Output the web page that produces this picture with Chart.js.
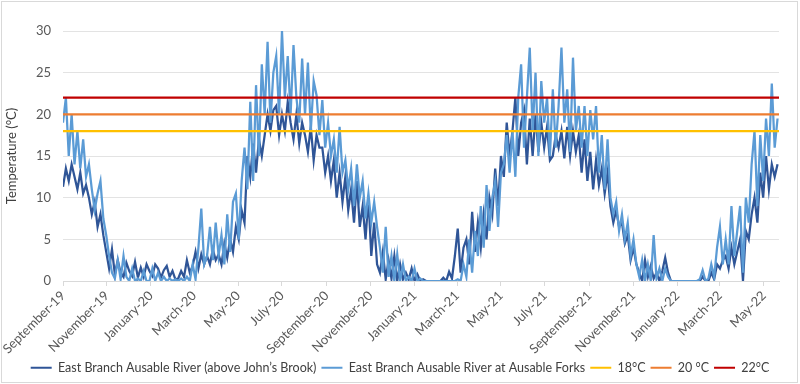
<!DOCTYPE html>
<html>
<head>
<meta charset="utf-8">
<script src="https://cdn.jsdelivr.net/npm/chart.js@4.4.1/dist/chart.umd.min.js"></script>
<style>
  html, body { margin: 0; padding: 0; background: #fff; }
</style>
</head>
<body>
<canvas id="line-chart" width="800" height="384"></canvas>
<script>
// x axis: every other month
var tickLabels = ['September-19','November-19','January-20','March-20','May-20','July-20','September-20','November-20',
  'January-21','March-21','May-21','July-21','September-21','November-21','January-22','March-22','May-22'];
var tickDates = ['2019-09-01','2019-11-01','2020-01-01','2020-03-01','2020-05-01','2020-07-01','2020-09-01','2020-11-01',
  '2021-01-01','2021-03-01','2021-05-01','2021-07-01','2021-09-01','2021-11-01','2022-01-01','2022-03-01','2022-05-01'];
var startDate = '2019-09-01';
var endDay = 994;
var sampleStep = 4; // one reading every 4 days

// East Branch Ausable River (above John's Brook)
var johnsBrook = [
  11.3,13.5,12,14,12.5,11,13,10.5,11.5,10,
  8,9.5,6.5,8,5.5,3.5,1.5,3.8,0.8,2.5,
  1,0.5,2.2,1.2,0.6,2.3,0.4,1.6,0.5,2,
  1.2,0.6,2,1.5,0.4,1.3,1.8,0.5,1.2,0.2,
  0.3,1.2,0.5,2.5,1,1.8,3.5,1.5,3.2,2,
  3,2,3.8,2.5,3.2,2,4.5,2.8,5,3.5,
  6.5,5,8.5,7,15,12.5,16.5,13,17,15,
  17.5,20,18,20.5,21,17.5,20,18,21.5,19,
  17,20,16.5,19,17.5,15.5,18.5,14.5,17.5,16,
  16,13,15,12,14.5,10,13,9.5,12.5,8.5,
  11,7,12,6.5,9,5,10,3,7,2,
  1,3.5,0.2,2.5,0.3,3,0,2,0.2,1,
  0.2,1.5,0,0.8,0,0.2,0,0,0,0,
  0,0,0.4,0,1.1,0.3,3,6.3,1,4,
  5,2,8.3,3.5,7,4,8,5,10,8,
  13.5,9,15,12.5,19,15,18,22,15,19,
  20.5,14,19.5,15,20,15.5,19,16,18.5,14.5,
  15,17.5,16,18,14.7,18.5,15,18,15.5,17.5,
  13,17,12,15.5,11,14.5,11.5,13.5,10.5,13,
  9,7,8.5,6.5,7,4.5,5.5,2.5,4,2,
  1,0,2.5,0.5,1.8,0.3,1,0,1.2,2.8,
  1,0,0,0,0,0,0,0,0,0,
  0,0,0.5,0,0,1,0.2,2,1.5,2.5,
  3,1.5,4,2,3.5,5,0,6,5,8,
  10,7,13,10,15,11,14,12.5,14
];

// East Branch Ausable River at Ausable Forks
var ausableForks = [
  19,22,15,20,14,18,13.5,17,12.5,14,
  11,8.5,10.5,12,7.5,5.5,3,1,0.3,2.5,
  0.2,3,0.5,0,1.5,0,0.3,0,1.2,0,
  0,1.5,0,1,0,0.5,0,0.3,0,0.2,
  0,0.3,0,0.5,0,2,0.2,4,8.7,2,
  3,6.5,2.5,7,3,5.5,2,8,3.5,9.5,
  10.5,5,12,16,11,21.5,12,23.5,15,26,
  20,28.7,19,25,27,20,30,22,27,20,
  28.3,22,19,26.7,20,26.2,18,24,22.3,17.5,
  21.7,16,19,15,17,13,18.5,13,14.5,11,
  13.5,9,14,10,12,7.5,10.5,7,9.5,6.5,
  4,1,6.5,0.5,3,0,3.2,0,2,0,
  0.5,0,1.5,0,0.3,0,0,0,0,0,
  0,0,0,0,0,0,0,0.2,0,2,
  0.5,5,1,6,3,9,4,11.5,6,10,
  12,6.5,13,14,17.5,13,18,12.5,22,26,
  16,22,28,18,25,15,24,19,22,15,
  23,16,21,28,19,23,15.5,26.8,18,21,
  16,21,15,20.5,17,21,13,17.5,11,17,
  10,8,9.5,6,8,5,7,3,5,2,
  0.5,2.5,0,2,0,5.5,0.3,1.5,0,1.5,
  0.5,0,0,0,0,0,0,0,0,0,
  0,0.2,1.3,0,0.3,2,0.5,4,6.5,2,
  5,2,9,3,6,9,1,10,7,14,
  18,9,17.5,12,19.5,15,23.7,16,19.5
];

// reference temperatures
var thresholdValues = [18, 20, 22];
var thresholdLabels = ['18°C', '20 °C', '22°C'];
var thresholdColors = ['#FFC000', '#ED7D31', '#C00000'];

var tickDays = tickDates.map(function(s) { return (Date.parse(s) - Date.parse(startDate)) / 86400000; });

function toPoints(arr) {
  return arr.map(function(v, i) { return { x: i * sampleStep, y: v }; });
}

var datasets = [
  { label: 'East Branch Ausable River (above John\u2019s Brook)', data: toPoints(johnsBrook),
    borderColor: '#2F5597', backgroundColor: '#2F5597', order: 3 },
  { label: 'East Branch Ausable River at Ausable Forks', data: toPoints(ausableForks),
    borderColor: '#5B9BD5', backgroundColor: '#5B9BD5', order: 2 }
];
for (var i = 0; i < thresholdValues.length; i++) {
  datasets.push({
    label: thresholdLabels[i],
    data: [{ x: 0, y: thresholdValues[i] }, { x: endDay, y: thresholdValues[i] }],
    borderColor: thresholdColors[i], backgroundColor: thresholdColors[i], order: 1
  });
}
datasets.forEach(function(d) {
  d.borderWidth = 2.25; d.pointRadius = 0; d.fill = false; d.tension = 0;
});

var font = { family: 'Lato, "Liberation Sans", sans-serif', size: 13 };

// thin grey frame round the chart, like the original
var frame = {
  id: 'frame',
  afterDraw: function(c) {
    var ctx = c.ctx;
    ctx.save();
    ctx.strokeStyle = '#D9D9D9';
    ctx.lineWidth = 1;
    ctx.strokeRect(1.5, 1.5, 796, 381);
    ctx.restore();
  }
};

var chart = new Chart(document.getElementById('line-chart'), {
  type: 'line',
  data: { datasets: datasets },
  plugins: [frame],
  options: {
    responsive: false,
    animation: false,
    layout: { padding: { top: 31, right: 0, bottom: 0, left: 0 } },
    plugins: {
      tooltip: { enabled: false },
      legend: {
        position: 'bottom',
        labels: {
          font: { family: 'Lato, "Liberation Sans", sans-serif', size: 12.5 }, color: '#404040',
          boxWidth: 21, boxHeight: 2, padding: 5,
          sort: function(a, b) { return a.datasetIndex - b.datasetIndex; },
          generateLabels: function(c) {
            return Chart.defaults.plugins.legend.labels.generateLabels(c).map(function(l) {
              l.lineWidth = 0; l.fillStyle = l.strokeStyle; return l;
            });
          }
        }
      }
    },
    scales: {
      x: {
        type: 'linear', min: 0, max: endDay,
        afterBuildTicks: function(s) { s.ticks = tickDays.map(function(v) { return { value: v }; }); },
        afterFit: function(s) { s.height = 75.5; },
        ticks: {
          autoSkip: false, minRotation: 45, maxRotation: 45, color: '#595959', font: font, padding: 2,
          callback: function(v, idx) { return tickLabels[idx]; }
        },
        grid: { drawOnChartArea: false, color: '#D9D9D9', tickLength: 5 },
        border: { color: '#D9D9D9' }
      },
      y: {
        min: 0, max: 30,
        afterFit: function(s) { s.width = 63; },
        ticks: { stepSize: 5, color: '#595959', font: font, padding: 12 },
        grid: { color: '#E3E3E3', drawTicks: false },
        border: { display: false },
        title: { display: true, text: 'Temperature (°C)', color: '#404040', font: font, padding: { top: 4, bottom: 0 } }
      },
      // empty strip on the right so the plot stops where the original does
      yRight: {
        position: 'right', min: 0, max: 30,
        afterFit: function(s) { s.width = 21; },
        ticks: { display: false },
        grid: { display: false },
        border: { display: false }
      }
    }
  }
});
</script>
</body>
</html>
